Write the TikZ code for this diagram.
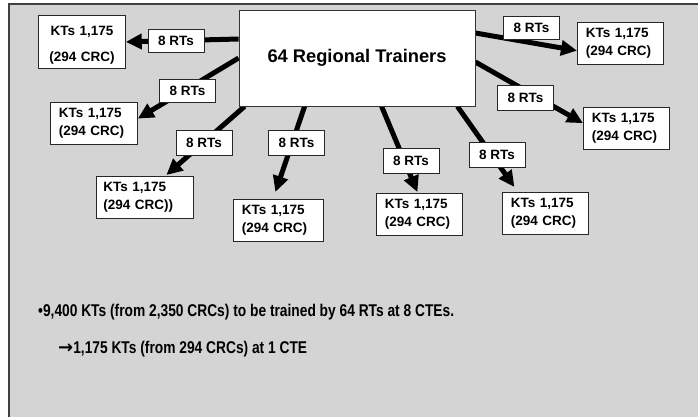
\documentclass[tikz,border=0pt]{standalone}
\usepackage{fontspec}
\setmainfont{Liberation Sans}
\newfontfamily\narrowfont[FakeStretch=0.81]{Liberation Sans}
\newfontfamily\arrowfont{DejaVu Sans}
\usetikzlibrary{arrows.meta}
\pgfdeclarelayer{bg}
\pgfdeclarelayer{links}
\pgfsetlayers{bg,links,main}
\definecolor{panel}{RGB}{212,212,212}

\begin{document}
\begin{tikzpicture}[x=1pt,y=-1pt,
  hubbox/.style={draw=black!80, line width=0.8pt, fill=white,
    minimum width=236pt, minimum height=96pt, inner sep=0pt,
    font=\fontsize{18.3}{21}\selectfont\bfseries},
  ktbox/.style={draw=black!85, line width=0.8pt, fill=white, anchor=north west,
    align=left, inner xsep=8.5pt, inner ysep=0pt, minimum height=41.5pt,
    font=\fontsize{13.5}{17.5}\selectfont\bfseries},
  rtlabel/.style={draw=black!85, line width=0.8pt, fill=white,
    minimum width=56pt, minimum height=23pt, inner sep=0pt,
    font=\fontsize{13.5}{16}\selectfont\bfseries},
  feed/.style={line width=5pt, -{Triangle[length=16pt,width=15pt]}},
  note/.style={anchor=west, inner sep=0pt,
    font=\narrowfont\fontsize{17}{20}\selectfont\bfseries}
]
\useasboundingbox (0,0) rectangle (698,416);

% grey panel
\begin{pgfonlayer}{bg}
  \fill[white] (0,0) rectangle (698,416);
  \draw[fill=panel, draw=black!75, line width=1.5pt] (9,4) rectangle (712,432);
\end{pgfonlayer}

% central box
\node[hubbox] (hub) at (357,58) {64 Regional Trainers};

% receiving groups
\node[ktbox, align=center, text width=70pt, minimum height=53pt] (k1) at (38,15)
  {\rule{0pt}{15pt}KTs 1,175\\[8.5pt](294 CRC)};
\node[ktbox, text width=70pt] (k2) at (50,102) {KTs 1,175\\(294 CRC)};
\node[ktbox, inner xsep=7pt, text width=83pt] (k3) at (96,176) {KTs 1,175\\(294 CRC))};
\node[ktbox, text width=73pt] (k4) at (233,199) {KTs 1,175\\(294 CRC)};
\node[ktbox, text width=69pt] (k5) at (376,193) {KTs 1,175\\(294 CRC)};
\node[ktbox, text width=69pt] (k6) at (502,192) {KTs 1,175\\(294 CRC)};
\node[ktbox, text width=69pt] (k7) at (583,107) {KTs 1,175\\(294 CRC)};
\node[ktbox, text width=69pt] (k8) at (577,22) {KTs 1,175\\(294 CRC)};

% arrows from the trainers to each group
\begin{pgfonlayer}{links}
  \draw[feed] ([yshift=19pt]hub.west) -- (k1.east);
  \draw[feed] (hub.west) -- ([yshift=4.5pt]k2.east);
  \draw[feed] ([xshift=6pt]hub.south west) -- ([xshift=21.5pt,yshift=1pt]k3.north);
  \draw[feed] ([xshift=66pt]hub.south west) -- ([xshift=-3pt,yshift=7pt]k4.north);
  \draw[feed] ([xshift=143pt]hub.south west) -- ([xshift=-2pt,yshift=1pt]k5.north);
  \draw[feed] ([xshift=-18pt]hub.south east) -- ([xshift=-31pt,yshift=5pt]k6.north);
  \draw[feed] ([yshift=-4pt]hub.east) -- ([yshift=5pt]k7.west);
  \draw[feed] ([yshift=25pt]hub.east) -- ([yshift=-7.5pt]k8.west);
\end{pgfonlayer}

% trainer counts on the arrows
\node[rtlabel] (r1) at (176,41) {8 RTs};
\node[rtlabel] (r2) at (187.5,90.5) {8 RTs};
\node[rtlabel, minimum height=25pt] (r3) at (204,142.5) {8 RTs};
\node[rtlabel, minimum height=25pt] (r4) at (296.5,142.5) {8 RTs};
\node[rtlabel, minimum height=25pt] (r5) at (411,160.5) {8 RTs};
\node[rtlabel, minimum height=25pt] (r6) at (497,154.5) {8 RTs};
\node[rtlabel, minimum height=25pt] (r7) at (525.5,97.5) {8 RTs};
\node[rtlabel] (r8) at (531.5,27.5) {8 RTs};

% summary
\node[note] (n1) at (38,312) {•9,400 KTs (from 2,350 CRCs) to be trained by 64 RTs at 8 CTEs.};
\node[note] (n2) at (58,349) {{\arrowfont\bfseries\fontsize{18}{20}\selectfont →}1,175 KTs (from 294 CRCs) at 1 CTE};
\end{tikzpicture}
\end{document}
